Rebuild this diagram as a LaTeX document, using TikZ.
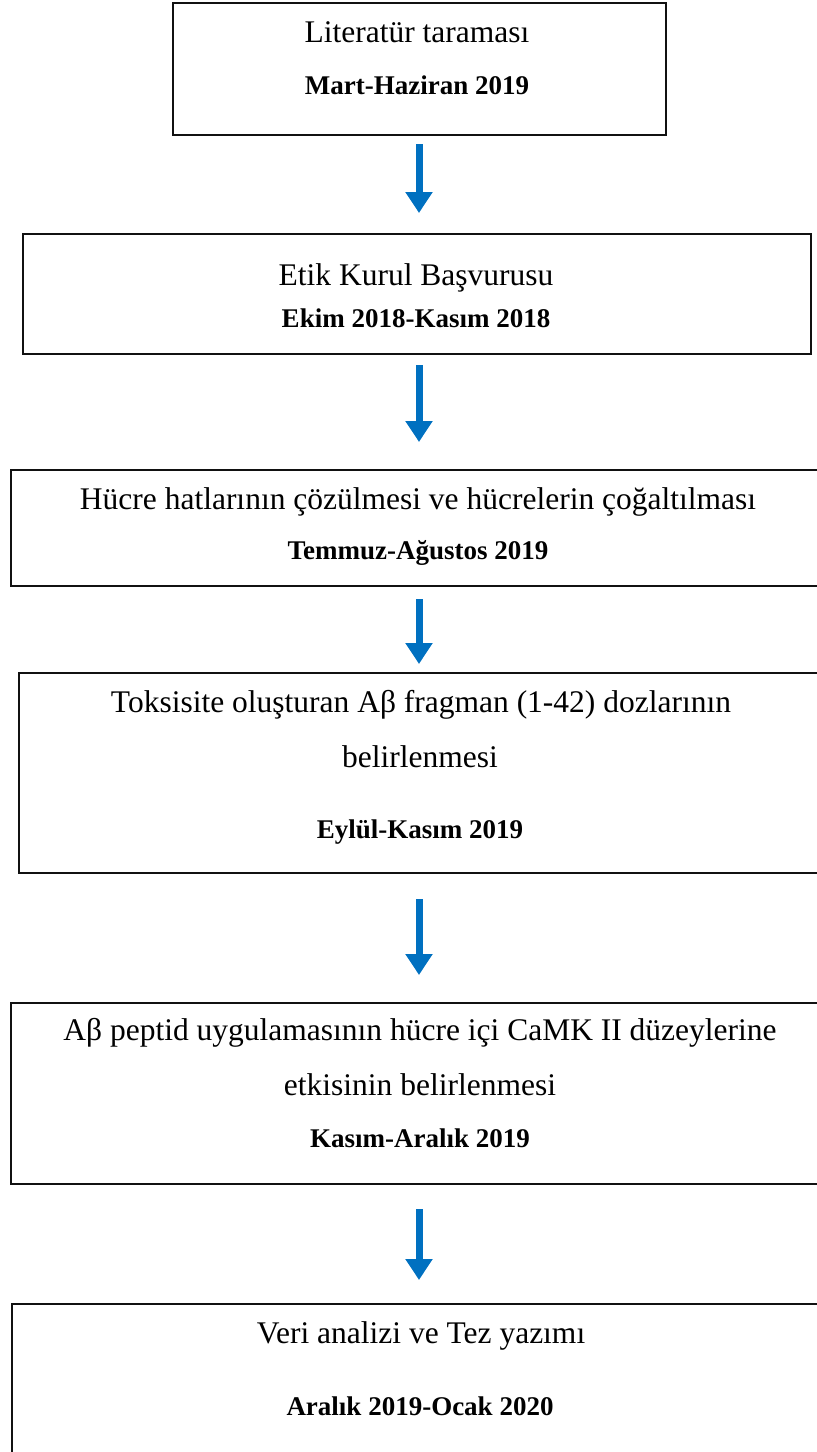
\documentclass[tikz,border=0pt]{standalone}
\usepackage{fontspec}
\setmainfont{Liberation Serif}
\usetikzlibrary{arrows.meta}
\definecolor{arrowblue}{HTML}{0070C0}
\definecolor{boxline}{HTML}{111111}
\begin{document}
\begin{tikzpicture}[x=1pt,y=-1pt,
  box/.style={draw=boxline, line width=2pt, anchor=north west, inner sep=0pt, rectangle},
  reg/.style={anchor=base, inner sep=0pt, font=\fontsize{31.5}{36}\selectfont},
  bld/.style={anchor=base, inner sep=0pt, font=\fontsize{27}{32}\selectfont\bfseries},
  flow/.style={draw=arrowblue, line width=7pt, -{Triangle[width=26pt,length=21pt]}}]
\useasboundingbox (0,0) rectangle (817,1452);
\clip (0,0) rectangle (817,1452);
% boxes
\node[box, minimum width=493pt, minimum height=132pt] (b1) at (172,2) {};
\node[box, minimum width=788pt, minimum height=120pt] (b2) at (22,233) {};
\node[box, minimum width=815pt, minimum height=116pt] (b3) at (10,469) {};
\node[box, minimum width=810pt, minimum height=200pt] (b4) at (18,672) {};
\node[box, minimum width=815pt, minimum height=181pt] (b5) at (10,1002) {};
\node[box, minimum width=815pt, minimum height=170pt] (b6) at (11,1303) {};
% texts
\node[reg] (t1a) at (417,42) {Literatür taraması};
\node[bld] (t1b) at (417,94) {Mart-Haziran 2019};
\node[reg] (t2a) at (416,285) {Etik Kurul Başvurusu};
\node[bld] (t2b) at (416,327) {Ekim 2018-Kasım 2018};
\node[reg] (t3a) at (418,509) {Hücre hatlarının çözülmesi ve hücrelerin çoğaltılması};
\node[bld] (t3b) at (418,559) {Temmuz-Ağustos 2019};
\node[reg] (t4a) at (421,712) {Toksisite oluşturan Aβ fragman (1-42) dozlarının};
\node[reg] (t4b) at (420,767) {belirlenmesi};
\node[bld] (t4c) at (420,838) {Eylül-Kasım 2019};
\node[reg] (t5a) at (420,1040) {Aβ peptid uygulamasının hücre içi CaMK II düzeylerine};
\node[reg] (t5b) at (420,1095) {etkisinin belirlenmesi};
\node[bld] (t5c) at (420,1147) {Kasım-Aralık 2019};
\node[reg] (t6a) at (421,1343) {Veri analizi ve Tez yazımı};
\node[bld] (t6b) at (420,1415) {Aralık 2019-Ocak 2020};
% arrows
\coordinate (ax) at (419,0);
\draw[flow, shorten <=8pt, shorten >=20pt] (b1.south -| ax) -- (b2.north -| ax);
\draw[flow, shorten <=10pt, shorten >=27pt] (b2.south -| ax) -- (b3.north -| ax);
\draw[flow, shorten <=12pt, shorten >=8pt] (b3.south -| ax) -- (b4.north -| ax);
\draw[flow, shorten <=25pt, shorten >=27pt] (b4.south -| ax) -- (b5.north -| ax);
\draw[flow, shorten <=24pt, shorten >=23pt] (b5.south -| ax) -- (b6.north -| ax);
\end{tikzpicture}
\end{document}
